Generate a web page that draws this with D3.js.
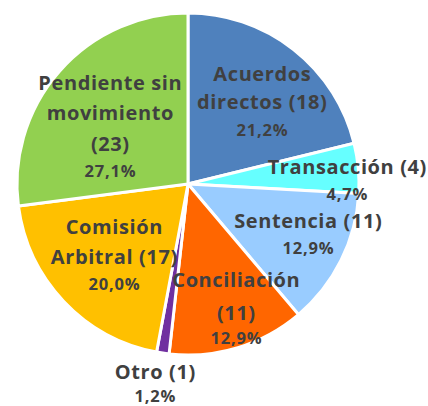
<!DOCTYPE html>
<html><head><meta charset="utf-8">
<script src="https://cdn.jsdelivr.net/npm/d3@7"></script>
<style>html,body{margin:0;padding:0;background:#fff;}</style>
</head><body>
<svg id="c" width="428" height="406"></svg>
<script>
const categories = ["Acuerdos directos", "Transacción", "Sentencia", "Conciliación", "Otro", "Comisión Arbitral", "Pendiente sin movimiento"];
const values = [18, 4, 11, 11, 1, 17, 23];
const percentLabels = ["21,2%", "4,7%", "12,9%", "12,9%", "1,2%", "20,0%", "27,1%"];
const nameLines = [
  ["Acuerdos", "directos (18)"],
  ["Transacción (4)"],
  ["Sentencia (11)"],
  ["Conciliación", "(11)"],
  ["Otro (1)"],
  ["Comisión", "Arbitral (17)"],
  ["Pendiente sin", "movimiento", "(23)"]
];
const colors = ["#4F81BD", "#66FFFF", "#99CCFF", "#FF6600", "#7030A0", "#FFC000", "#92D050"];

// label layout (offsets from pie centre, first-line baseline)
const labelLayout = [
  {dx: 74, dy: -103, gaps: [28, 27]},
  {dx: 159, dy: -10, gaps: [26]},
  {dx: 120, dy: 44, gaps: [26]},
  {dx: 48, dy: 103, gaps: [33, 24]},
  {dx: -33, dy: 195, gaps: [23]},
  {dx: -74, dy: 50, gaps: [30, 26]},
  {dx: -78, dy: -94, gaps: [30, 31, 26]}
];

const svg = d3.select("#c");
const cx = 188, cy = 184, r = 171;
const g = svg.append("g").attr("transform", `translate(${cx},${cy})`);
const pie = d3.pie().sort(null).value(d => d)(values);
const arc = d3.arc().innerRadius(0).outerRadius(r);
g.selectAll("path").data(pie).enter().append("path")
  .attr("d", arc)
  .attr("fill", (d, i) => colors[i])
  .attr("stroke", "#fff").attr("stroke-width", 3).attr("stroke-linejoin", "miter");

const lg = g.append("g").attr("font-family", "'Open Sans', sans-serif").attr("font-weight", "bold").attr("fill", "#404040").attr("text-anchor", "middle");
nameLines.forEach((lines, i) => {
  const L = labelLayout[i];
  let y = L.dy;
  const all = lines.concat([percentLabels[i]]);
  all.forEach((t, j) => {
    if (j > 0) y += L.gaps[j - 1];
    const isPct = j === all.length - 1;
    lg.append("text").attr("x", L.dx + (isPct ? 0.4 : 0.3)).attr("y", y)
      .attr("font-size", isPct ? 16.5 : 20)
      .attr("letter-spacing", isPct ? 0.8 : 0.6)
      .text(t);
  });
});
</script>
</body></html>
